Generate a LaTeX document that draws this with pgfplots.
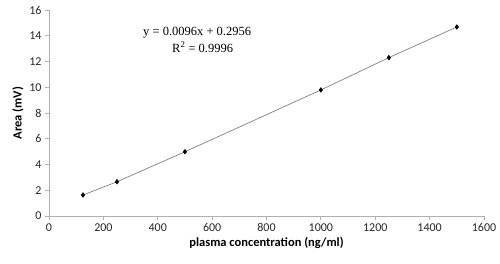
\documentclass[border=0pt]{standalone}
\usepackage{fontspec}
\setmainfont{Carlito}
\newfontfamily\eqfont{Liberation Serif}
\usepackage{pgfplots}
\pgfplotsset{compat=1.18}

\definecolor{axisgray}{HTML}{B0B0B0}
\definecolor{linegray}{HTML}{808080}

\begin{document}
\begin{tikzpicture}[font=\fontsize{12}{14}\selectfont]
\begin{axis}[
    scale only axis,
    width=435pt, height=206pt,
    xmin=0, xmax=1600,
    ymin=0, ymax=16,
    xtick={0,200,...,1600},
    ytick={0,2,...,16},
    axis x line*=bottom,
    axis y line*=left,
    axis line style={axisgray, line width=0.8pt},
    tick style={axisgray, line width=0.8pt},
    tick align=outside,
    major tick length=4pt,
    /pgf/number format/assume math mode=true,
    /pgf/number format/1000 sep={},
    ticklabel style={text=black!85},
    xlabel={\bfseries plasma concentration (ng/ml)},
    ylabel={\bfseries Area (mV)},
    label style={font=\fontsize{12.5}{14}\selectfont},
    xlabel style={yshift=1pt},
    ylabel style={yshift=-1pt},
]
% trendline / connecting line
\addplot[linegray, line width=0.7pt] coordinates {
    (125,1.63) (250,2.66) (500,4.99) (1000,9.79) (1250,12.30) (1500,14.68)
};
% measured points
\addplot[only marks, mark=diamond*, mark size=2.4pt, black] coordinates {
    (125,1.63) (250,2.66) (500,4.99) (1000,9.79) (1250,12.30) (1500,14.68)
};
\node[font=\eqfont\fontsize{12.5}{14}\selectfont] at (axis cs:545,14.2) {y = 0.0096x + 0.2956};
\node[font=\eqfont\fontsize{12.5}{14}\selectfont] at (axis cs:565,13.1) {R\textsuperscript{2} = 0.9996};
\end{axis}
\useasboundingbox (-49pt,-47pt) rectangle (451pt,216pt);
\end{tikzpicture}
\end{document}
